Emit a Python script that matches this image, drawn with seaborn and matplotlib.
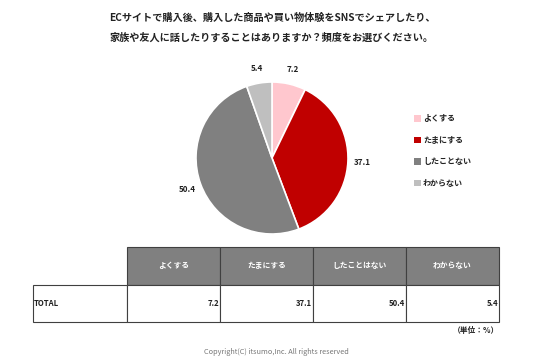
import matplotlib
matplotlib.use('Agg')
import matplotlib.pyplot as plt
from matplotlib.patches import Patch
import seaborn as sns

title = 'ECサイトで購入後、購入した商品や買い物体験をSNSでシェアしたり、\n家族や友人に話したりすることはありますか？頻度をお選びください。'
labels = ['よくする', 'たまにする', 'したことない', 'わからない']
values = [7.2, 37.1, 50.4, 5.4]
colors = ['#FFC7CE', '#C00000', '#808080', '#BFBFBF']
table_header = ['よくする', 'たまにする', 'したことはない', 'わからない']
row_label = 'TOTAL'

sns.set_theme(style='white')
plt.rcParams['font.family'] = ['Noto Sans CJK JP', 'DejaVu Sans']

fig = plt.figure(figsize=(5.36, 3.61), dpi=100)
W, H = 536, 361

def px_axes(x0, y0, x1, y1):
    return fig.add_axes([x0 / W, 1 - y1 / H, (x1 - x0) / W, (y1 - y0) / H])

fig.text(272 / W, 1 - 28 / H, title, ha='center', va='center', fontsize=7.3,
         fontweight='bold', linespacing=2.1, color='#222222')

# pie
ax = px_axes(196, 82, 348, 234)
wedges, texts = ax.pie(values, colors=colors, startangle=90, counterclock=False,
                       labels=[f'{v:.1f}' for v in values], labeldistance=1.19, radius=1,
                       wedgeprops=dict(edgecolor='white', linewidth=1.2),
                       textprops=dict(fontsize=5.8, fontweight='bold', color='#222222'))
for t in texts:
    t.set_clip_on(False)
    t.set_ha('center')
ax.set_xlim(-1, 1)
ax.set_ylim(-1, 1)
ax.set_aspect('equal')

handles = [Patch(facecolor=c, edgecolor='none') for c in colors]
leg = fig.legend(handles, labels, loc='upper left', bbox_to_anchor=(407 / W, 1 - 107 / H),
                 frameon=False, fontsize=5.8, handlelength=0.8, handleheight=0.8,
                 handletextpad=0.3, labelspacing=1.55)
for t in leg.get_texts():
    t.set_fontweight('bold')
    t.set_color('#222222')

# table
tax = px_axes(33, 247, 499, 322)
tax.axis('off')
cell_text = [[''] + table_header, [row_label] + [f'{v:.1f}' for v in values]]
col_w = [94] + [93] * 4
tbl = tax.table(cellText=cell_text, cellLoc='right', colWidths=[w / sum(col_w) for w in col_w],
                bbox=[0, 0, 1, 1])
tbl.auto_set_font_size(False)
for (r, c), cell in tbl.get_celld().items():
    cell.set_edgecolor('#404040')
    cell.set_linewidth(0.8)
    cell.set_text_props(fontsize=5.6, fontweight='bold', color='#222222')
    if r == 0:
        if c == 0:
            cell.visible_edges = ''
        else:
            cell.set_facecolor('#808080')
            cell.set_text_props(color='white', ha='center')
    elif c == 0:
        cell.set_text_props(ha='left')
    cell.PAD = 0.01

fig.text(499 / W, 1 - 331 / H, '（単位：%）', ha='right', va='center', fontsize=5.6,
         fontweight='bold', color='#222222')
fig.text(276 / W, 1 - 352 / H, 'Copyright(C) itsumo,Inc. All rights reserved', ha='center',
         va='center', fontsize=5.3, color='#777777')

fig.savefig('out.png', dpi=100)
